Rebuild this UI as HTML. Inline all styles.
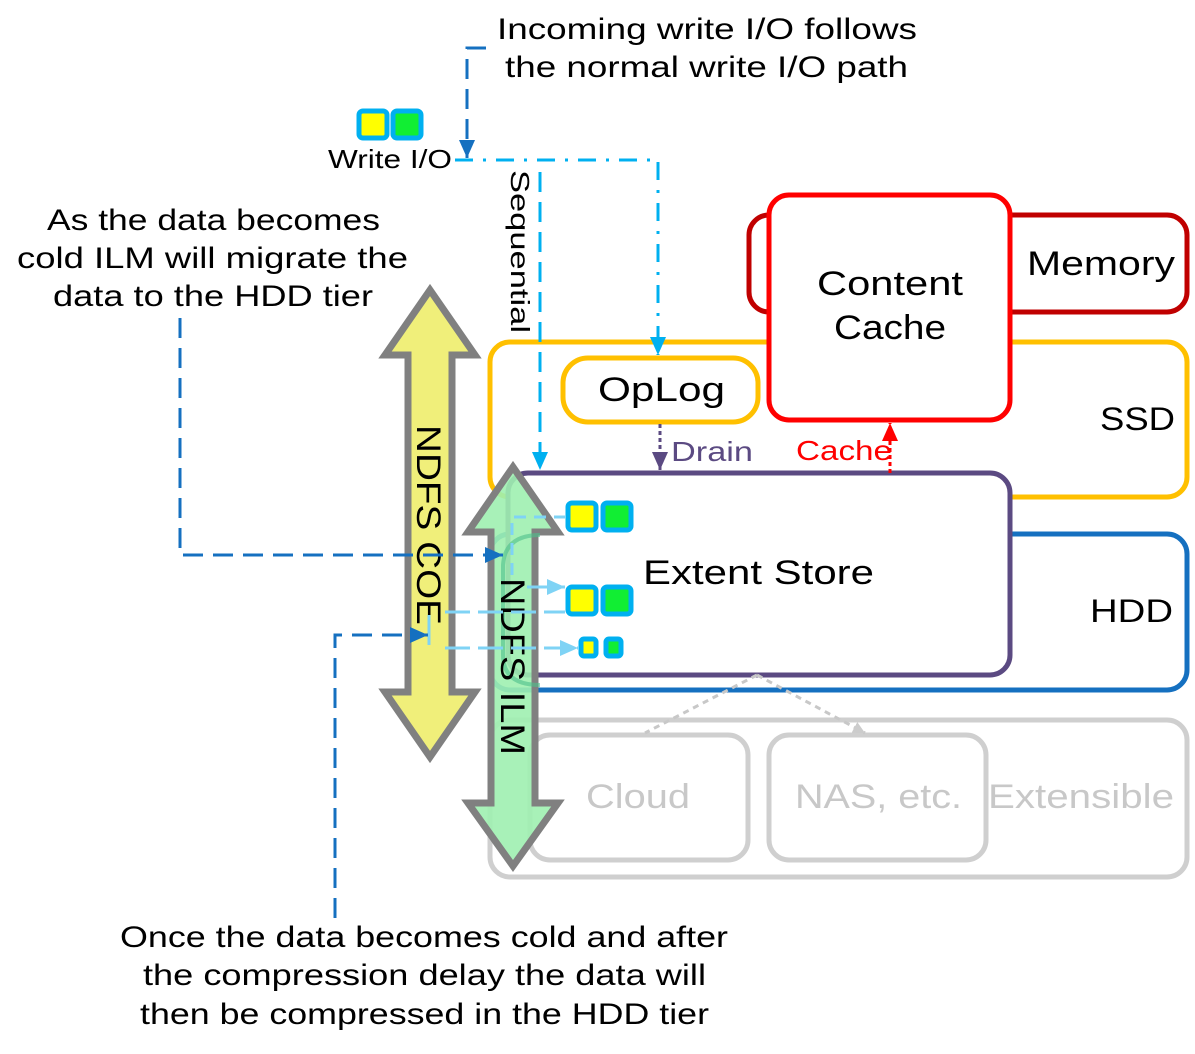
<!DOCTYPE html>
<html><head><meta charset="utf-8"><style>
body{margin:0;background:#fff}
svg text{font-family:"Liberation Sans",sans-serif}
</style></head><body>
<svg width="1195" height="1049" viewBox="0 0 1195 1049" xmlns="http://www.w3.org/2000/svg">
<defs>
<marker id="al" markerWidth="20" markerHeight="20" refX="18" refY="10" orient="auto" markerUnits="userSpaceOnUse"><path d="M0,2 L18,10 L0,18 z" fill="#1570c0"/></marker>
<marker id="ac" markerWidth="20" markerHeight="20" refX="18" refY="10" orient="auto" markerUnits="userSpaceOnUse"><path d="M0,2 L18,10 L0,18 z" fill="#00b0f0"/></marker>
<marker id="alc" markerWidth="20" markerHeight="20" refX="18" refY="10" orient="auto" markerUnits="userSpaceOnUse"><path d="M0,2 L18,10 L0,18 z" fill="#7fd3f5"/></marker>
<marker id="ap" markerWidth="20" markerHeight="20" refX="18" refY="10" orient="auto" markerUnits="userSpaceOnUse"><path d="M0,2 L18,10 L0,18 z" fill="#5b4a82"/></marker>
<marker id="ar" markerWidth="20" markerHeight="20" refX="18" refY="10" orient="auto" markerUnits="userSpaceOnUse"><path d="M0,2 L18,10 L0,18 z" fill="#f00"/></marker>
<marker id="ag" markerWidth="14" markerHeight="14" refX="12" refY="7" orient="auto" markerUnits="userSpaceOnUse"><path d="M0,1 L12,7 L0,13 z" fill="#ccc"/></marker>
</defs>

<rect x="490" y="720" width="697" height="157" rx="20" fill="#fff" stroke="#cfcfcf" stroke-width="5"/>
<rect x="530" y="735" width="218" height="125" rx="20" fill="#fff" stroke="#cfcfcf" stroke-width="5"/>
<rect x="769" y="735" width="217" height="125" rx="20" fill="#fff" stroke="#cfcfcf" stroke-width="5"/>
<text x="586" y="808" font-size="34" fill="#c8c8c8" textLength="104" lengthAdjust="spacingAndGlyphs">Cloud</text>
<text x="795" y="808" font-size="34" fill="#c8c8c8" textLength="167" lengthAdjust="spacingAndGlyphs">NAS, etc.</text>
<text x="988" y="808" font-size="34" fill="#c8c8c8" textLength="186" lengthAdjust="spacingAndGlyphs">Extensible</text>

<rect x="490" y="534" width="697" height="156" rx="20" fill="#fff" stroke="#1570c0" stroke-width="5"/>
<text x="1090" y="622" font-size="32" textLength="83" lengthAdjust="spacingAndGlyphs">HDD</text>

<rect x="749" y="215" width="438" height="97" rx="20" fill="#fff" stroke="#c00000" stroke-width="5"/>
<text x="1027" y="275" font-size="34" textLength="148" lengthAdjust="spacingAndGlyphs">Memory</text>

<rect x="490" y="342" width="697" height="155" rx="20" fill="#fff" stroke="#ffc000" stroke-width="5"/>
<text x="1100" y="430" font-size="32" textLength="75" lengthAdjust="spacingAndGlyphs">SSD</text>
<rect x="563" y="358" width="195" height="64" rx="25" fill="#fff" stroke="#ffc000" stroke-width="5"/>
<text x="598" y="401" font-size="34" textLength="127" lengthAdjust="spacingAndGlyphs">OpLog</text>

<rect x="769" y="195" width="241" height="225" rx="20" fill="#fff" stroke="#ff0000" stroke-width="5"/>
<text x="817" y="295" font-size="34" textLength="146" lengthAdjust="spacingAndGlyphs">Content</text>
<text x="834" y="339" font-size="34" textLength="112" lengthAdjust="spacingAndGlyphs">Cache</text>

<rect x="508" y="473" width="502" height="202" rx="20" fill="#fff" stroke="#5b4a82" stroke-width="5"/>
<text x="643" y="584" font-size="34" textLength="231" lengthAdjust="spacingAndGlyphs">Extent Store</text>

<path d="M757,675 L645,733 M757,675 L865,733" stroke="#c8c8c8" stroke-width="3" stroke-dasharray="6,5" fill="none" marker-end="url(#ag)"/>

<line x1="660" y1="424" x2="660" y2="470" stroke="#5b4a82" stroke-width="3" stroke-dasharray="4,3" marker-end="url(#ap)"/>
<text x="671" y="461" font-size="28" fill="#5b4a82" textLength="82" lengthAdjust="spacingAndGlyphs">Drain</text>
<line x1="890" y1="473" x2="890" y2="423" stroke="#f00" stroke-width="3" stroke-dasharray="4,3" marker-end="url(#ar)"/>
<text x="796" y="460" font-size="28" fill="#f00" textLength="96" lengthAdjust="spacingAndGlyphs">Cache</text>

<path d="M455,160 L658,160 L658,355" fill="none" stroke="#00b0f0" stroke-width="3" stroke-dasharray="18,10,3,10" marker-end="url(#ac)"/>
<path d="M540,172 L540,470" fill="none" stroke="#00b0f0" stroke-width="3" stroke-dasharray="20,10" marker-end="url(#ac)"/>
<text transform="translate(511,170) rotate(90)" font-size="26" textLength="163" lengthAdjust="spacingAndGlyphs">Sequential</text>
<path d="M486,48 L467,48 L467,158" fill="none" stroke="#1570c0" stroke-width="3" stroke-dasharray="20,10" marker-end="url(#al)"/>
<text x="497" y="39" font-size="30" textLength="420" lengthAdjust="spacingAndGlyphs">Incoming write I/O follows</text>
<text x="505" y="77" font-size="30" textLength="403" lengthAdjust="spacingAndGlyphs">the normal write I/O path</text>

<rect x="359" y="111" width="28" height="27" rx="4" fill="#ff0" stroke="#00b0f0" stroke-width="5"/>
<rect x="393" y="111" width="28" height="27" rx="4" fill="#11ee33" stroke="#00b0f0" stroke-width="5"/>
<text x="328" y="168" font-size="26" textLength="124" lengthAdjust="spacingAndGlyphs">Write I/O</text>

<text x="47" y="230" font-size="30" textLength="333" lengthAdjust="spacingAndGlyphs">As the data becomes</text>
<text x="17" y="268" font-size="30" textLength="391" lengthAdjust="spacingAndGlyphs">cold ILM will migrate the</text>
<text x="53" y="306" font-size="30" textLength="320" lengthAdjust="spacingAndGlyphs">data to the HDD tier</text>

<polygon points="430,290 475,355 452,355 452,692 475,692 430,757 385,692 408,692 408,355 385,355" fill="#f0ef7a" stroke="#808080" stroke-width="7"/>
<text transform="translate(417,425) rotate(90)" font-size="34" textLength="200" lengthAdjust="spacingAndGlyphs">NDFS COE</text>

<polygon points="513,467 558,532 535,532 535,803 558,803 513,866 468,803 491,803 491,532 468,532" fill="#9ef0b0" fill-opacity="0.9" stroke="#808080" stroke-width="7"/>
<path d="M540,535 Q505,535 503,565 L503,655 Q503,685 540,685" fill="none" stroke="#4cbf8a" stroke-width="4" opacity="0.6"/>
<text transform="translate(501,578) rotate(90)" font-size="34" textLength="177" lengthAdjust="spacingAndGlyphs">NDFS ILM</text>

<path d="M512,575 L512,517 L565,517" fill="none" stroke="#7fd3f5" stroke-width="3" stroke-dasharray="12,8"/>
<line x1="527" y1="587" x2="565" y2="587" stroke="#7fd3f5" stroke-width="3" marker-end="url(#alc)"/>
<line x1="445" y1="612" x2="565" y2="612" stroke="#7fd3f5" stroke-width="3" stroke-dasharray="25,8"/>
<line x1="445" y1="648" x2="578" y2="648" stroke="#7fd3f5" stroke-width="3" stroke-dasharray="25,8" marker-end="url(#alc)"/>
<line x1="429" y1="615" x2="429" y2="645" stroke="#7fd3f5" stroke-width="3"/>
<rect x="568" y="503" width="28" height="27" rx="4" fill="#ff0" stroke="#00b0f0" stroke-width="5"/>
<rect x="603" y="503" width="28" height="27" rx="4" fill="#11ee33" stroke="#00b0f0" stroke-width="5"/>
<rect x="568" y="587" width="28" height="27" rx="4" fill="#ff0" stroke="#00b0f0" stroke-width="5"/>
<rect x="603" y="587" width="28" height="27" rx="4" fill="#11ee33" stroke="#00b0f0" stroke-width="5"/>
<rect x="581" y="639" width="15" height="17" rx="3" fill="#ff0" stroke="#00b0f0" stroke-width="5"/>
<rect x="606" y="639" width="15" height="17" rx="3" fill="#11ee33" stroke="#00b0f0" stroke-width="5"/>

<path d="M180,318 L180,555 L503,555" fill="none" stroke="#1570c0" stroke-width="3" stroke-dasharray="20,10" marker-end="url(#al)"/>
<path d="M335,918 L335,635 L428,635" fill="none" stroke="#1570c0" stroke-width="3" stroke-dasharray="20,10" marker-end="url(#al)"/>

<text x="120" y="947" font-size="30" textLength="608" lengthAdjust="spacingAndGlyphs">Once the data becomes cold and after</text>
<text x="143" y="985" font-size="30" textLength="563" lengthAdjust="spacingAndGlyphs">the compression delay the data will</text>
<text x="140" y="1024" font-size="30" textLength="569" lengthAdjust="spacingAndGlyphs">then be compressed in the HDD tier</text>
</svg>
</body></html>
